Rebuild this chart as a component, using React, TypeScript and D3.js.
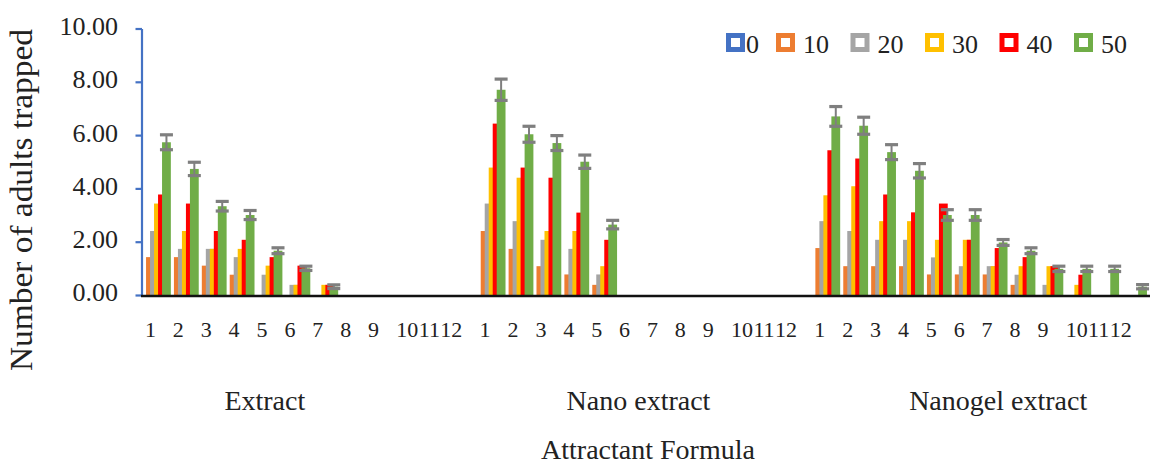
import React from 'react';
import * as d3 from 'd3';

// categories
const groups = ['Extract', 'Nano extract', 'Nanogel extract'];
const formulas = ['1', '2', '3', '4', '5', '6', '7', '8', '9', '10', '11', '12'];
const concentrations = ['0', '10', '20', '30', '40', '50'];
const colors = ['#4472C4', '#ED7D31', '#A5A5A5', '#FFC000', '#FF0000', '#70AD47'];

// series values, 12 formulas per group: Extract | Nano extract | Nanogel extract
const conc0 = [
  0, 0, 0, 0, 0, 0, 0, 0, 0, 0, 0, 0,
  0, 0, 0, 0, 0, 0, 0, 0, 0, 0, 0, 0,
  0, 0, 0, 0, 0, 0, 0, 0, 0, 0, 0, 0,
];
const conc10 = [
  1.44, 1.44, 1.12, 0.78, 0, 0, 0, 0, 0, 0, 0, 0,
  2.42, 1.75, 1.1, 0.79, 0.4, 0, 0, 0, 0, 0, 0, 0,
  1.78, 1.1, 1.1, 1.1, 0.79, 0.79, 0.79, 0.4, 0, 0, 0, 0,
];
const conc20 = [
  2.42, 1.75, 1.75, 1.44, 0.78, 0.4, 0, 0, 0, 0, 0, 0,
  3.45, 2.79, 2.09, 1.75, 0.79, 0, 0, 0, 0, 0, 0, 0,
  2.79, 2.42, 2.09, 2.09, 1.43, 1.1, 1.1, 0.78, 0.4, 0, 0, 0,
];
const conc30 = [
  3.45, 2.42, 1.75, 1.75, 1.12, 0.4, 0.4, 0, 0, 0, 0, 0,
  4.8, 4.42, 2.42, 2.42, 1.1, 0, 0, 0, 0, 0, 0, 0,
  3.76, 4.1, 2.79, 2.79, 2.09, 2.09, 1.1, 1.1, 1.1, 0.4, 0, 0,
];
const conc40 = [
  3.79, 3.45, 2.42, 2.09, 1.44, 1.12, 0.4, 0, 0, 0, 0, 0,
  6.45, 4.8, 4.42, 3.11, 2.09, 0, 0, 0, 0, 0, 0, 0,
  5.45, 5.14, 3.79, 3.12, 3.45, 2.09, 1.78, 1.44, 1.1, 0.78, 0, 0,
];
const conc50 = [
  5.75, 4.75, 3.35, 3.02, 1.68, 1.02, 0.33, 0, 0, 0, 0, 0,
  7.72, 6.05, 5.72, 5.02, 2.66, 0, 0, 0, 0, 0, 0, 0,
  6.72, 6.37, 5.38, 4.68, 3.02, 3.02, 1.99, 1.68, 1.0, 1.0, 1.0, 0.33,
];
// error (±) on the 50 series
const err50 = [
  0.28, 0.25, 0.18, 0.17, 0.11, 0.08, 0.07, 0, 0, 0, 0, 0,
  0.4, 0.3, 0.28, 0.25, 0.16, 0, 0, 0, 0, 0, 0, 0,
  0.37, 0.32, 0.28, 0.27, 0.2, 0.2, 0.11, 0.11, 0.1, 0.1, 0.1, 0.08,
];
const yTicks = [0, 2, 4, 6, 8, 10];

const series = [conc0, conc10, conc20, conc30, conc40, conc50];

const W = 1176;
const H = 467;
const FONT = '"Liberation Serif", "Times New Roman", serif';
const TEXT = '#222';

export default function App() {
  const left = 142.5;
  const right = 1146.5;
  const keys = groups.flatMap((g, gi) => formulas.map((f) => `${gi}-${f}`));

  const x = d3.scaleBand<string>().domain(keys).range([left, right]).padding(0);
  const y = d3.scaleLinear().domain([0, 10]).range([295.5, 29]);

  // overlapping clustered bars
  const barW = 8.8;
  const step = 4;
  const clusterW = step * (concentrations.length - 1) + barW;
  const sub = d3
    .scalePoint<string>()
    .domain(concentrations)
    .range([-clusterW / 2, -clusterW / 2 + step * (concentrations.length - 1)]);

  const center = (i: number) => (x(keys[i]) as number) + x.bandwidth() / 2;

  const tickLabelX = (gi: number, fi: number) => {
    if (fi < 9) return center(gi * 12 + fi) - 6;
    return center(gi * 12 + 10) - 6 + (fi - 10) * 22;
  };

  const groupShift = [-45, -6, 19];
  const groupCenter = (gi: number) => (center(gi * 12 + 5) + center(gi * 12 + 6)) / 2;

  const legendX = (i: number) => (i === 0 ? 726 : 776 + (i - 1) * 74.5);

  return (
    <svg
      width={W}
      height={H}
      style={{ position: 'absolute', left: 0, top: 0, background: '#fff' }}
      fontFamily={FONT}
    >
      <rect width={W} height={H} fill="#fff" />

      {/* y axis */}
      <line x1={left - 0.5} x2={left - 0.5} y1={y(10)} y2={y(0)} stroke="#4472C4" strokeWidth={2.2} />
      {yTicks.map((t) => (
        <g key={t}>
          <line x1={left - 7} x2={left - 0.5} y1={y(t)} y2={y(t)} stroke="#4472C4" strokeWidth={2.2} />
          <text
            x={118}
            y={y(t)}
            textAnchor="end"
            dominantBaseline="middle"
            fontSize={26}
            fill={TEXT}
          >
            {t.toFixed(2)}
          </text>
        </g>
      ))}

      {/* bars */}
      {series.map((vals, si) =>
        vals.map((v, i) =>
          v > 0 ? (
            <rect
              key={`${si}-${i}`}
              x={center(i) + (sub(concentrations[si]) as number)}
              y={y(v)}
              width={barW}
              height={y(0) - y(v)}
              fill={colors[si]}
            />
          ) : null
        )
      )}

      {/* error bars on 50 series */}
      {err50.map((e, i) => {
        if (conc50[i] <= 0) return null;
        const cx = center(i) + (sub('50') as number) + barW / 2;
        const top = y(conc50[i] + e);
        const bot = y(Math.max(0, conc50[i] - e));
        return (
          <g key={`e${i}`} stroke="#7F7F7F">
            <line x1={cx} x2={cx} y1={top} y2={bot} strokeWidth={2} />
            <line x1={cx - 6.5} x2={cx + 6.5} y1={top} y2={top} strokeWidth={3.2} />
            <line x1={cx - 6.5} x2={cx + 6.5} y1={bot} y2={bot} strokeWidth={3.2} />
          </g>
        );
      })}

      {/* x axis */}
      <line x1={left - 1.5} x2={1150} y1={296} y2={296} stroke="#111" strokeWidth={2.6} />

      {/* formula labels */}
      {groups.map((g, gi) =>
        formulas.map((f, fi) => (
          <text
            key={`${gi}-${f}`}
            x={tickLabelX(gi, fi)}
            y={337}
            textAnchor="middle"
            fontSize={22}
            fill={TEXT}
          >
            {f}
          </text>
        ))
      )}

      {/* group labels */}
      {groups.map((g, gi) => (
        <text
          key={g}
          x={groupCenter(gi) + groupShift[gi]}
          y={410}
          textAnchor="middle"
          fontSize={28}
          fill={TEXT}
        >
          {g}
        </text>
      ))}

      {/* axis titles */}
      <text x={648} y={459} textAnchor="middle" fontSize={28} fill={TEXT}>
        Attractant Formula
      </text>
      <text
        transform="translate(32,200) rotate(-90)"
        textAnchor="middle"
        fontSize={31}
        textLength={342}
        lengthAdjust="spacingAndGlyphs"
        fill={TEXT}
      >
        Number of adults trapped
      </text>

      {/* legend */}
      {concentrations.map((c, i) => (
        <g key={c}>
          <rect
            x={legendX(i) + 2.5}
            y={35.5}
            width={14}
            height={14}
            fill="#fff"
            stroke={colors[i]}
            strokeWidth={5}
          />
          <text x={legendX(i) + (i === 0 ? 20 : 27)} y={53} fontSize={26} fill={TEXT}>
            {c}
          </text>
        </g>
      ))}
    </svg>
  );
}
